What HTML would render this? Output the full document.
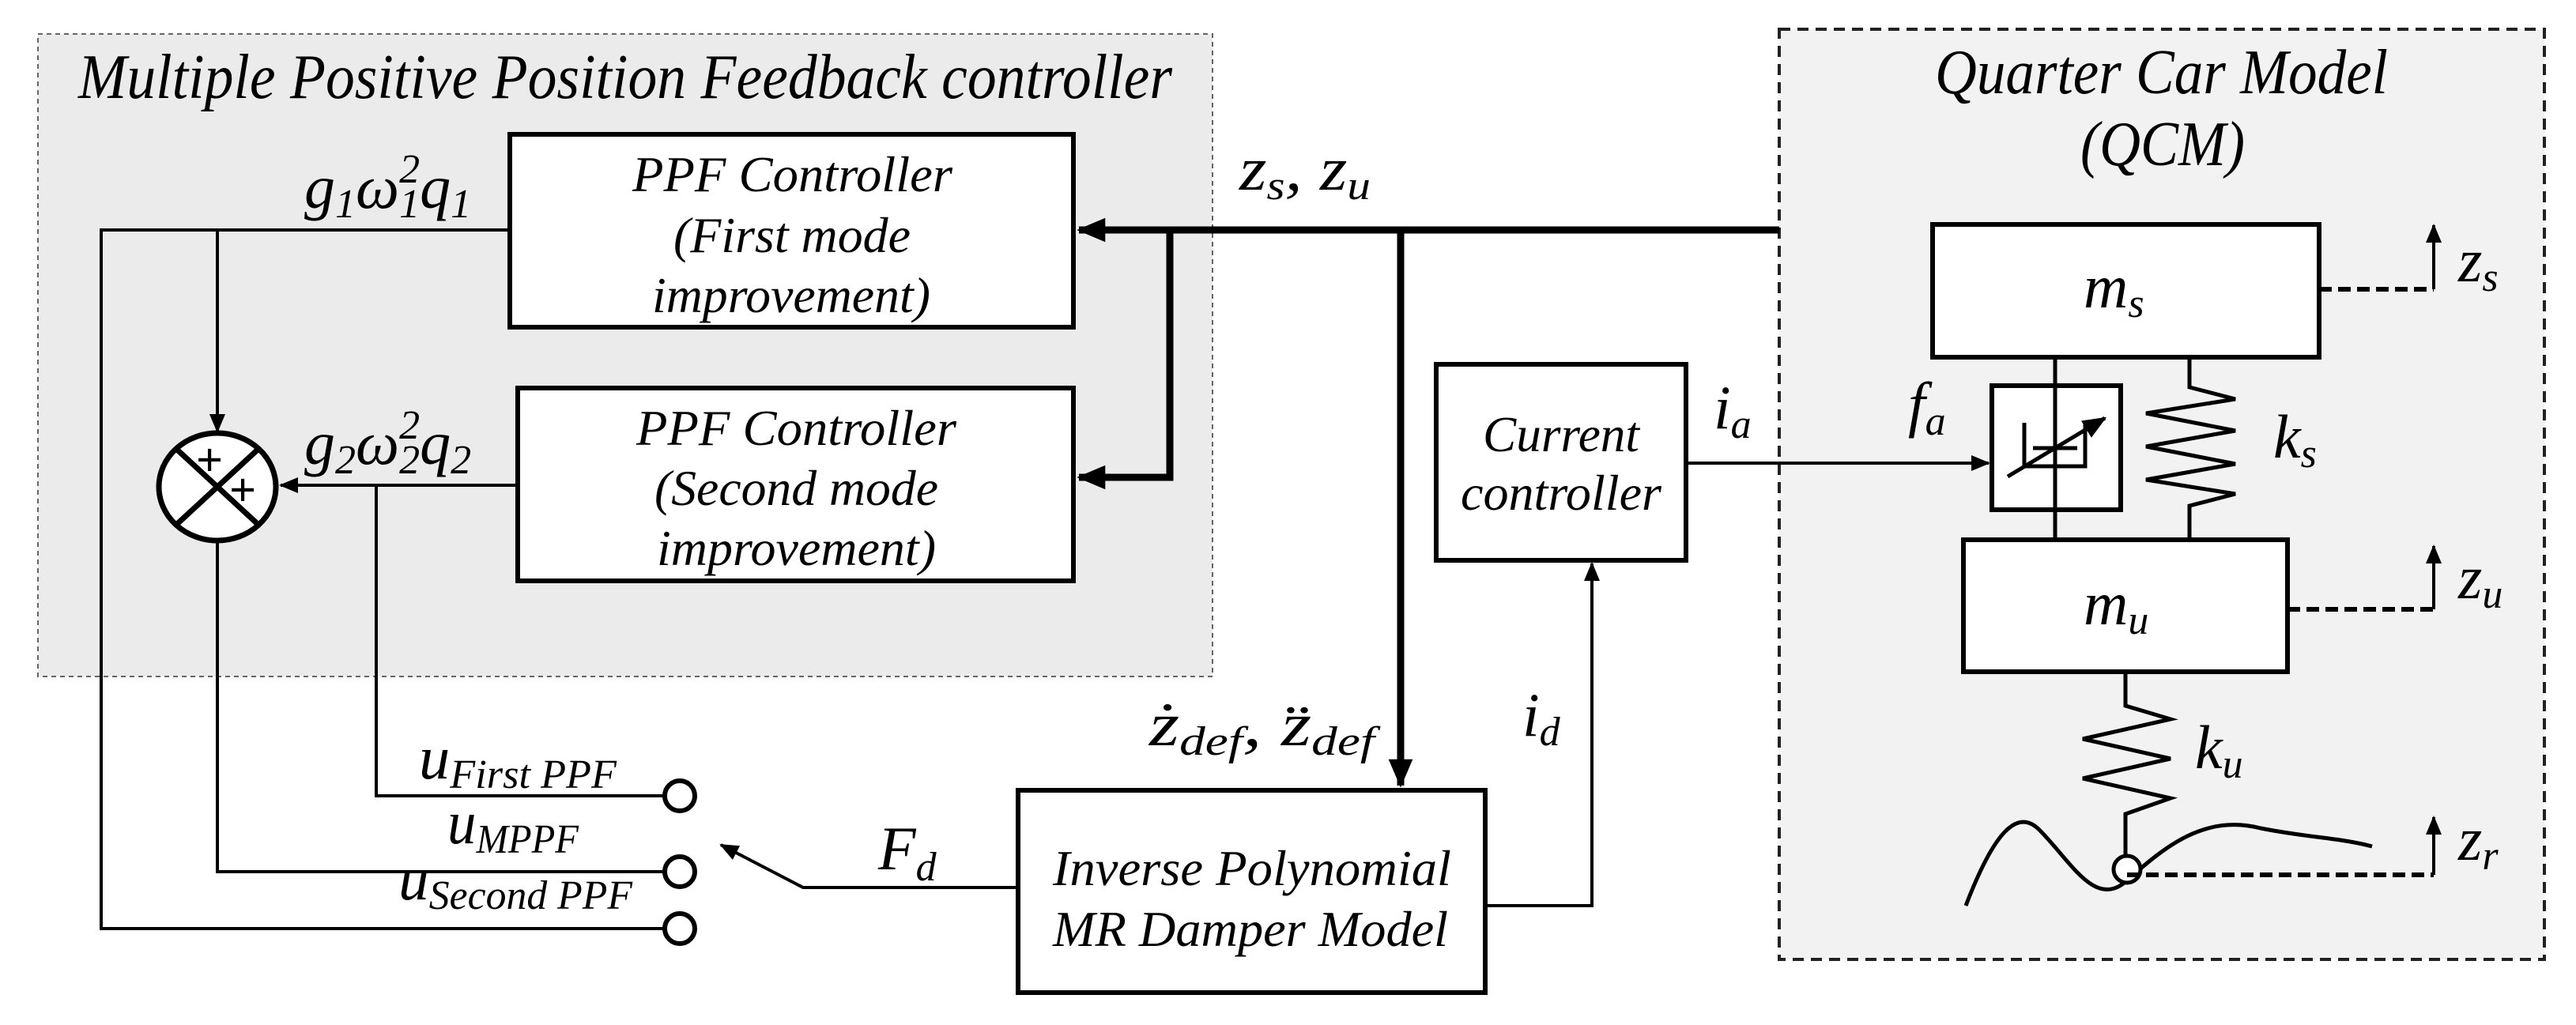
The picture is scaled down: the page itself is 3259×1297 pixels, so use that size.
<!DOCTYPE html>
<html><head><meta charset="utf-8"><style>
html,body{margin:0;padding:0;background:#fff;}
svg{display:block;}
text{font-family:"Liberation Serif",serif;font-style:italic;fill:#000;}
.sub{font-style:italic;font-size:52px;}
.m{font-size:78px;}
.bt{font-size:64px;}
</style></head><body>
<svg width="3259" height="1297" viewBox="0 0 3259 1297" xmlns="http://www.w3.org/2000/svg">
<defs>
<marker id="a" markerWidth="6" markerHeight="6" refX="5.5" refY="3" orient="auto" markerUnits="strokeWidth"><path d="M0,0.5 L6,3 L0,5.5 Z" fill="#000"/></marker>
<marker id="ab" markerWidth="4" markerHeight="4" refX="3.7" refY="2" orient="auto" markerUnits="strokeWidth"><path d="M0,0.3 L4,2 L0,3.7 Z" fill="#000"/></marker>
</defs>
<rect width="3259" height="1297" fill="#fff"/>
<rect x="48" y="43" width="1486" height="813" fill="#ebebeb" stroke="#666" stroke-width="2" stroke-dasharray="6,5"/>
<text x="99" y="124" font-size="80" textLength="1384" lengthAdjust="spacingAndGlyphs">Multiple Positive Position Feedback controller</text>
<rect x="2251" y="37" width="968" height="1177" fill="#f2f2f2" stroke="#222" stroke-width="4" stroke-dasharray="14,9"/>
<text x="2448" y="118" font-size="80" textLength="573" lengthAdjust="spacingAndGlyphs">Quarter Car Model</text>
<text x="2632" y="209" font-size="80" textLength="208" lengthAdjust="spacingAndGlyphs">(QCM)</text>

<g fill="#fff" stroke="#000" stroke-width="6">
<rect x="645" y="170" width="713" height="244"/>
<rect x="655" y="491" width="703" height="244"/>
<rect x="1288" y="1000" width="591" height="256"/>
<rect x="1817" y="461" width="316" height="248"/>
<rect x="2445" y="284" width="489" height="168"/>
<rect x="2484" y="683" width="410" height="167"/>
<rect x="2520" y="488" width="163" height="157"/>
</g>
<text class="bt" x="800" y="242" textLength="405" lengthAdjust="spacingAndGlyphs">PPF Controller</text>
<text class="bt" x="852" y="319" textLength="300" lengthAdjust="spacingAndGlyphs">(First mode</text>
<text class="bt" x="825" y="395" textLength="352" lengthAdjust="spacingAndGlyphs">improvement)</text>
<text class="bt" x="805" y="563" textLength="405" lengthAdjust="spacingAndGlyphs">PPF Controller</text>
<text class="bt" x="828" y="639" textLength="359" lengthAdjust="spacingAndGlyphs">(Second mode</text>
<text class="bt" x="831" y="715" textLength="353" lengthAdjust="spacingAndGlyphs">improvement)</text>
<text class="bt" x="1332" y="1120" textLength="504" lengthAdjust="spacingAndGlyphs">Inverse Polynomial</text>
<text class="bt" x="1332" y="1197" textLength="500" lengthAdjust="spacingAndGlyphs">MR Damper Model</text>
<text class="bt" x="1876" y="571" textLength="198" lengthAdjust="spacingAndGlyphs">Current</text>
<text class="bt" x="1848" y="645" textLength="254" lengthAdjust="spacingAndGlyphs">controller</text>

<g fill="none" stroke="#000" stroke-width="4">
<polyline points="645,291 128,291 128,1175 840,1175"/>
<line x1="275" y1="291" x2="275" y2="546" marker-end="url(#a)"/>
<line x1="655" y1="614" x2="355" y2="614" marker-end="url(#a)"/>
<polyline points="476,614 476,1007 840,1007"/>
<polyline points="275,686 275,1103 840,1103"/>
<polyline points="1288,1123 1016,1123 912,1069" marker-end="url(#a)"/>
<polyline points="1879,1146 2014,1146 2014,713" marker-end="url(#a)"/>
<line x1="2133" y1="586" x2="2516" y2="586" marker-end="url(#a)"/>
<circle cx="860" cy="1007" r="19" stroke-width="6" fill="#fff"/>
<circle cx="860" cy="1103" r="19" stroke-width="6" fill="#fff"/>
<circle cx="860" cy="1175" r="19" stroke-width="6" fill="#fff"/>
</g>
<g stroke="#000" stroke-width="7" fill="#fff">
<ellipse cx="275" cy="616" rx="74" ry="68"/>
<line x1="223" y1="568" x2="327" y2="664"/>
<line x1="327" y1="568" x2="223" y2="664"/>
</g>
<text x="248" y="602" font-size="60" style="font-style:normal;font-weight:bold">+</text>
<text x="290" y="640" font-size="60" style="font-style:normal;font-weight:bold">+</text>

<g fill="none" stroke="#000" stroke-width="9">
<line x1="2251" y1="291" x2="1365" y2="291" marker-end="url(#ab)"/>
<polyline points="1480,291 1480,604 1365,604" marker-end="url(#ab)"/>
<line x1="1772" y1="291" x2="1772" y2="994" marker-end="url(#ab)"/>
</g>

<g fill="none" stroke="#000" stroke-width="5">
<line x1="2600" y1="452" x2="2600" y2="683"/>
<polyline points="2770,452 2770,490 2828,505 2715,523 2828,545 2715,565 2828,587 2715,607 2828,625 2770,640 2770,683"/>
<polyline points="2689,850 2689,893 2746,910 2635,935 2746,960 2635,985 2746,1010 2689,1030 2689,1082"/>
<path d="M2487,1146 C2520,1060 2550,1020 2580,1050 C2620,1090 2650,1150 2690,1115 C2740,1070 2790,1030 2860,1048 C2920,1060 2960,1060 3001,1071"/>
<circle cx="2691" cy="1100" r="17" fill="#fff"/>
<polyline points="2561,535 2561,590 2638,590 2638,535"/>
<line x1="2572" y1="567" x2="2628" y2="567"/>
<line x1="2540" y1="603" x2="2663" y2="529" marker-end="url(#a)" stroke-width="5"/>
</g>
<g fill="none" stroke="#000" stroke-width="6">
<line x1="2934" y1="366" x2="3079" y2="366" stroke-dasharray="16,8"/>
<line x1="2894" y1="771" x2="3079" y2="771" stroke-dasharray="16,8"/>
<line x1="2691" y1="1107" x2="3079" y2="1107" stroke-dasharray="16,8"/>
</g>
<g fill="none" stroke="#000" stroke-width="4">
<line x1="3079" y1="366" x2="3079" y2="285" marker-end="url(#a)"/>
<line x1="3079" y1="771" x2="3079" y2="691" marker-end="url(#a)"/>
<line x1="3079" y1="1107" x2="3079" y2="1034" marker-end="url(#a)"/>
</g>

<text class="m" x="385" y="263">g<tspan class="sub" dy="12">1</tspan><tspan dy="-12">ω</tspan><tspan class="sub" dy="12">1</tspan><tspan class="sub" dx="-26" dy="-44">2</tspan><tspan dy="32">q</tspan><tspan class="sub" dy="12">1</tspan></text>
<text class="m" x="385" y="587">g<tspan class="sub" dy="12">2</tspan><tspan dy="-12">ω</tspan><tspan class="sub" dy="12">2</tspan><tspan class="sub" dx="-26" dy="-44">2</tspan><tspan dy="32">q</tspan><tspan class="sub" dy="12">2</tspan></text>
<text class="m" x="530" y="985" textLength="250" lengthAdjust="spacingAndGlyphs">u<tspan class="sub" dy="12">First PPF</tspan></text>
<text class="m" x="566" y="1067" textLength="166" lengthAdjust="spacingAndGlyphs">u<tspan class="sub" dy="12">MPPF</tspan></text>
<text class="m" x="504" y="1138" textLength="296" lengthAdjust="spacingAndGlyphs">u<tspan class="sub" dy="12">Second PPF</tspan></text>
<text class="m" x="1111" y="1100">F<tspan class="sub" dy="14">d</tspan></text>
<text class="m" x="1568" y="240" textLength="166" lengthAdjust="spacingAndGlyphs">z<tspan class="sub" dy="12">s</tspan><tspan dy="-12">, z</tspan><tspan class="sub" dy="12">u</tspan></text>
<text class="m" x="1454" y="943" textLength="285" lengthAdjust="spacingAndGlyphs">ż<tspan class="sub" dy="12">def</tspan><tspan dy="-12">, z̈</tspan><tspan class="sub" dy="12">def</tspan></text>
<text class="m" x="2168" y="542">i<tspan class="sub" dy="12">a</tspan></text>
<text class="m" x="2414" y="538">f<tspan class="sub" dy="12">a</tspan></text>
<text class="m" x="1926" y="931">i<tspan class="sub" dy="12">d</tspan></text>
<text class="m" x="2876" y="579">k<tspan class="sub" dy="12">s</tspan></text>
<text class="m" x="2777" y="972">k<tspan class="sub" dy="12">u</tspan></text>
<text class="m" x="2636" y="389">m<tspan class="sub" dy="12">s</tspan></text>
<text class="m" x="2636" y="790">m<tspan class="sub" dy="12">u</tspan></text>
<text class="m" x="3110" y="356">z<tspan class="sub" dy="12">s</tspan></text>
<text class="m" x="3110" y="757">z<tspan class="sub" dy="12">u</tspan></text>
<text class="m" x="3110" y="1088">z<tspan class="sub" dy="12">r</tspan></text>
</svg>
</body></html>
